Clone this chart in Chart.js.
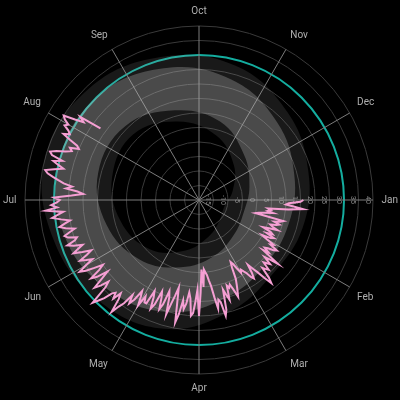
<!DOCTYPE html>
<html>
<head>
<meta charset="utf-8">
<script src="https://cdn.jsdelivr.net/npm/chart.js@4.4.1/dist/chart.umd.min.js"></script>
<style>
  html, body { margin: 0; padding: 0; background: #000; }
  #wrap { width: 400px; height: 400px; }
</style>
</head>
<body>
<div id="wrap"><canvas id="c"></canvas></div>
<script>
// --------------------------
// data
// --------------------------
const months = ['Jan', 'Feb', 'Mar', 'Apr', 'May', 'Jun', 'Jul', 'Aug', 'Sep', 'Oct', 'Nov', 'Dec'];
const stepsPerMonth = 30; // one step per degree, 12 x 30 = 360

// radial axis (°C)
const axisMin = -20;
const axisMax = 40;
const axisStep = 5;
const hotLine = 30;

// this year, one value per step from Jan 1 (ends early Aug)
const thisYear = [
  // Jan
  16, 15, 11, 10, 13, 16, 11, 4, 5, 4, 6, 3, 1, 0, 10, 9, 7, 9, 8, 6, 7, 9, 6, 4, 7, 8, 6, 9, 8, 5,
  // Feb
  7, 10, 9, 12, 11, 9, 8, 10, 8, 15, 12, 10, 13, 12, 11, 14, 13, 12, 16, 18, 15, 12, 10, 8, 11, 13, 12, 10,
  // Mar
  9, 8, 9, 7, 5, 4, 6, 10, 12, 14, 16, 13, 11, 12, 11, 16, 14, 12, 19, 21, 16, 15, 18, 14, 10, 8, 6, 5, 4, 10,
  // Apr
  4, 12, 20, 11, 15, 19, 20, 14, 12, 16, 18, 15, 20, 23, 16, 11, 14, 17, 21, 15, 13, 18, 20, 16, 14, 19, 21, 17, 15, 20,
  // May
  20, 18, 22, 19, 17, 21, 23, 20, 24, 26, 29, 24, 22, 25, 23, 24, 27, 29, 31, 24, 22, 25, 27, 23, 20, 24, 26, 22, 20, 23,
  // Jun
  26, 28, 25, 22, 24, 26, 23, 21, 24, 27, 25, 23, 26, 28, 25, 24, 27, 28, 26, 24, 27, 29, 27, 25, 28, 31, 29, 27, 33, 29,
  // Jul
  31, 29, 28, 30, 24, 20, 22, 26, 24, 27, 29, 31, 33, 34, 31, 28, 30, 32, 29, 33, 34, 32, 29, 27, 28, 25, 26, 29, 32, 30,
  // Aug
  31, 33, 32, 34, 35, 31, 28, 30, 22
];

// earlier years, spread read at mid-month
const pastMin  = [-11, -10, -7, -2, 4, 8, 11, 12, 8, 3, -3, -8];
const pastLow  = [-4, -3, 0, 4, 9, 13, 16, 16, 12, 8, 2, -2];
const pastHigh = [12, 12, 15, 20, 24, 28, 30, 30, 27, 23, 18, 14];
const pastMax  = [17, 16, 20, 26, 29, 32, 35, 34, 31, 28, 23, 19];

// --------------------------
// labels
// --------------------------
const stepLabels = [];
const monthStarts = [];
months.forEach(m => {
  monthStarts.push(stepLabels.length);
  for (let d = 0; d < stepsPerMonth; d++) stepLabels.push(d === 0 ? m : '');
});

function atMidMonth(vals) {
  const arr = new Array(stepLabels.length).fill(null);
  vals.forEach((v, i) => { arr[monthStarts[i] + 15] = v; });
  return arr;
}

const bandStyle = {
  pointRadius: 0,
  borderWidth: 0,
  spanGaps: true,
  tension: 0.4
};

new Chart(document.getElementById('c'), {
  type: 'radar',
  data: {
    labels: stepLabels,
    datasets: [
      {
        label: 'this year',
        data: thisYear,
        borderColor: '#f59fd3',
        borderWidth: 2,
        pointRadius: 0,
        fill: false,
        tension: 0
      },
      Object.assign({ label: 'high', data: atMidMonth(pastHigh), fill: '+1', backgroundColor: 'rgba(190,190,190,0.3)' }, bandStyle),
      Object.assign({ label: 'low', data: atMidMonth(pastLow), fill: false }, bandStyle),
      Object.assign({ label: 'max', data: atMidMonth(pastMax), fill: '+1', backgroundColor: 'rgba(170,170,170,0.15)' }, bandStyle),
      Object.assign({ label: 'min', data: atMidMonth(pastMin), fill: false }, bandStyle)
    ]
  },
  options: {
    responsive: true,
    maintainAspectRatio: false,
    animation: false,
    layout: { padding: { left: 3 } },
    plugins: {
      legend: { display: false },
      tooltip: { enabled: false }
    },
    scales: {
      r: {
        min: axisMin,
        max: axisMax,
        startAngle: 90,
        ticks: {
          stepSize: axisStep,
          color: '#8a8a8a',
          showLabelBackdrop: false,
          font: { family: 'Roboto', size: 7, lineHeight: 0.8 },
          callback: v => v === axisMin ? '' : ['', String(v)]
        },
        grid: {
          circular: true,
          color: ctx => ctx.tick && ctx.tick.value === hotLine ? '#14ad9f' : '#3a3a3a',
          lineWidth: ctx => ctx.tick && ctx.tick.value === hotLine ? 2 : 1
        },
        angleLines: {
          color: ctx => monthStarts.includes(ctx.index) ? '#7c7c7c' : null,
          lineWidth: 1
        },
        pointLabels: {
          color: '#b0b0b0',
          padding: 3,
          font: { family: 'Roboto', size: 10 }
        }
      }
    }
  }
});
</script>
</body>
</html>
